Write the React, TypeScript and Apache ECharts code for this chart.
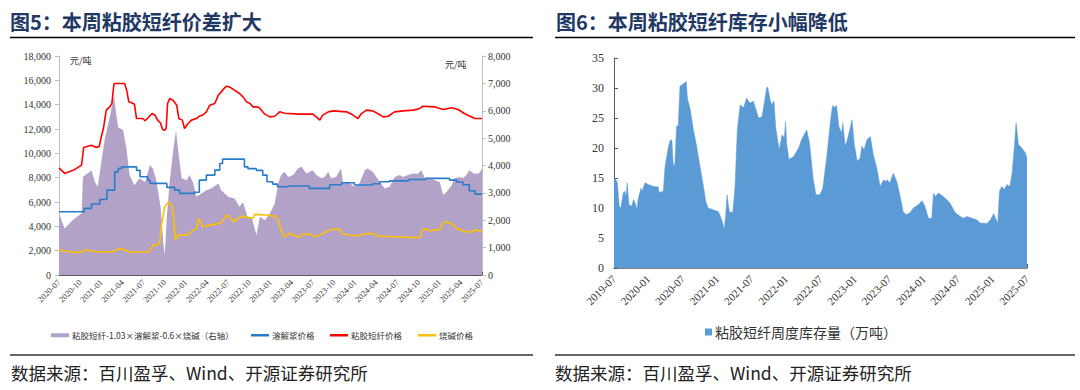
import React, { useEffect, useRef } from "react";
import * as echarts from "echarts";

const leftTitle = "图5：本周粘胶短纤价差扩大";
const rightTitle = "图6：本周粘胶短纤库存小幅降低";
const sourceText = "数据来源：百川盈孚、Wind、开源证券研究所";
const unitLabel = "元/吨";
const spreadName = "粘胶短纤-1.03×溶解浆-0.6×烧碱（右轴）";
const pulpName = "溶解浆价格";
const viscoseName = "粘胶短纤价格";
const causticName = "烧碱价格";
const inventoryName = "粘胶短纤周度库存量（万吨）";

// x = months since 2020-07
const spreadData: [number, number][] = [
  [0, 2250], [0.8, 1700], [2.0, 2020], [2.9, 2190], [3.2, 2250], [3.4, 3580], [4.1, 3720], [4.6, 3830],
  [5.1, 3400], [5.5, 3220], [6.0, 4130], [6.5, 4980], [7.0, 5530], [7.4, 6020], [7.8, 6560], [8.1, 5900],
  [8.4, 5400], [9.1, 5290], [9.6, 4560], [10.0, 3650], [10.7, 3280], [11.4, 3530], [12.2, 3400], [12.9, 4010],
  [13.3, 3890], [13.8, 3470], [14.4, 2490], [14.8, 1150], [15.0, 730], [15.3, 2130], [15.7, 3400], [16.2, 4560],
  [16.6, 5290], [16.9, 4560], [17.4, 3530], [18.1, 3460], [18.5, 3650], [19.0, 3400], [19.5, 2860], [20.2, 2980],
  [20.9, 3100], [21.6, 3160], [22.6, 3340], [23.0, 3100], [24.0, 2860], [24.9, 2790], [25.6, 2490], [26.1, 2670],
  [26.8, 2070], [27.3, 2130], [28.0, 1460], [28.5, 2130], [29.2, 2000], [29.9, 2250], [30.6, 2610], [31.1, 3340],
  [31.5, 3650], [32.0, 3770], [32.5, 3580], [33.2, 3650], [33.9, 3890], [34.4, 3950], [35.1, 3710], [36.0, 3830],
  [36.5, 3650], [37.2, 3530], [37.7, 3580], [38.2, 3770], [38.6, 3530], [39.3, 3580], [40.0, 3890], [40.3, 3340],
  [41.0, 3400], [41.9, 3220], [42.6, 3340], [43.4, 3830], [43.8, 3890], [44.5, 3770], [45.0, 3580], [45.7, 3340],
  [46.2, 3160], [46.9, 3220], [47.6, 3580], [48.3, 3650], [48.8, 3580], [49.5, 3650], [50.2, 3710], [50.9, 3700],
  [51.4, 3830], [51.9, 3530], [52.6, 3530], [53.3, 3460], [54.0, 3400], [54.5, 2920], [55.0, 3040], [55.7, 3280],
  [56.1, 3530], [56.8, 3580], [57.3, 3530], [57.8, 3650], [58.2, 3830], [58.9, 3700], [59.6, 3720], [60.0, 3890],
];

const pulpData: [number, number][] = [
  [0, 5200], [3.6, 5480], [4.6, 5830], [5.8, 6210], [6.8, 6980], [7.9, 8480], [8.4, 8760], [8.9, 8890],
  [11.0, 8600], [11.5, 8070], [12.6, 7800], [12.9, 7530], [15.3, 7200], [16.4, 6980], [17.1, 6710], [19.2, 6800],
  [19.9, 7800], [20.9, 8210], [22.1, 8620], [22.8, 9170], [23.2, 9520], [26.3, 8890], [26.8, 8740], [28.0, 8600],
  [28.9, 8210], [29.5, 7660], [30.3, 7470], [31.0, 7250], [32.5, 7310], [35.5, 7120], [38.4, 7420], [40.1, 7580],
  [41.9, 7400], [44.5, 7500], [45.5, 7660], [46.9, 7740], [49.6, 7850], [52.0, 7940], [55.4, 7800], [56.4, 7650],
  [57.3, 7420], [58.2, 6920], [59.0, 6650], [60.0, 6650],
];

const viscoseData: [number, number][] = [
  [0, 8800], [0.8, 8350], [2.0, 8600], [3.2, 9030], [3.5, 10480], [4.1, 10590], [4.6, 10670], [5.3, 10480],
  [5.7, 10560], [6.0, 11360], [6.3, 12040], [6.7, 13550], [7.2, 13820], [7.5, 14090], [7.8, 15740], [9.3, 15740],
  [9.6, 15190], [9.9, 14230], [10.3, 14150], [10.7, 14040], [11.0, 12860], [11.9, 12860], [12.2, 12680], [12.6, 12900],
  [13.2, 13270], [13.6, 13150], [14.0, 12730], [14.4, 12490], [14.7, 11960], [15.0, 11900], [15.2, 12040], [15.4, 14100],
  [15.7, 14500], [16.2, 14350], [16.7, 13960], [17.0, 12860], [17.5, 12730], [17.8, 12040], [18.3, 12450], [18.8, 12730],
  [19.5, 12860], [19.9, 13050], [20.4, 13150], [20.9, 13410], [21.4, 13960], [22.1, 14100], [22.6, 14780], [23.0, 15050],
  [23.7, 15520], [24.2, 15450], [24.9, 15190], [25.6, 14920], [26.1, 14640], [26.6, 14230], [27.1, 14100], [27.5, 13820],
  [28.2, 13820], [28.5, 13690], [29.2, 13220], [29.9, 13000], [30.6, 13050], [31.3, 13410], [32.0, 13300], [34.0, 13220],
  [36.0, 13220], [36.5, 13000], [37.0, 12730], [37.4, 13140], [38.2, 13410], [38.9, 13490], [40.8, 13410], [41.5, 13220],
  [42.4, 12860], [42.9, 13270], [43.6, 13550], [44.5, 13490], [45.2, 13270], [46.0, 13000], [46.7, 13050], [47.6, 13410],
  [48.8, 13490], [50.2, 13550], [51.2, 13690], [51.6, 13870], [53.3, 13820], [54.0, 13690], [54.5, 13600], [55.7, 13740],
  [56.6, 13600], [57.5, 13270], [58.3, 13050], [59.0, 12860], [60.0, 12860],
];

const causticData: [number, number][] = [
  [0, 2050], [1.1, 1950], [2.0, 1860], [3.0, 1860], [3.9, 2050], [5.3, 1910], [7.6, 1910], [8.4, 2130],
  [9.0, 2130], [10.0, 1890], [12.4, 1890], [12.9, 1950], [13.3, 2460], [14.0, 2460], [14.3, 2700], [14.5, 3970],
  [15.0, 5600], [15.5, 5970], [16.0, 5740], [16.3, 4530], [16.5, 2870], [16.9, 3280], [18.1, 3280], [18.8, 3560],
  [19.5, 3830], [19.8, 4650], [20.4, 3970], [21.3, 4100], [22.8, 4240], [23.3, 4500], [23.7, 4930], [24.2, 4800],
  [24.7, 4380], [25.4, 4650], [26.1, 4840], [27.5, 4650], [27.8, 4980], [29.4, 4930], [30.3, 4840], [30.7, 4870],
  [31.1, 4430], [31.6, 3560], [32.0, 3150], [32.7, 3420], [34.1, 3100], [34.5, 3370], [35.5, 3370], [36.3, 3150],
  [37.0, 3300], [37.9, 3560], [38.6, 3750], [39.8, 3750], [40.1, 3370], [42.2, 3200], [43.3, 3370], [44.5, 3420],
  [45.2, 3200], [47.4, 3150], [50.7, 3070], [51.2, 3100], [51.6, 3830], [52.6, 3640], [54.0, 3750], [54.5, 4300],
  [55.0, 4380], [55.7, 4200], [56.4, 3830], [57.3, 3640], [58.3, 3500], [58.9, 3690], [59.5, 3650], [60.0, 3530],
];

// x = months since 2019-07
const inventoryData: [number, number][] = [
  [0, 15.0], [0.3, 14.8], [0.6, 14.2], [0.9, 10.3], [1.2, 10.0], [1.6, 12.5], [1.9, 12.8], [2.1, 11.9],
  [2.3, 14.2], [2.6, 10.6], [3.1, 10.3], [3.4, 11.4], [3.7, 10.8], [4.0, 9.8], [4.2, 11.4], [4.7, 13.3],
  [4.9, 12.8], [5.4, 14.2], [6.0, 13.9], [6.9, 13.6], [7.7, 13.5], [7.9, 12.6], [8.6, 12.8], [8.9, 16.9],
  [9.5, 20.3], [9.8, 21.3], [10.1, 21.3], [10.3, 17.5], [10.6, 16.9], [10.9, 23.6], [11.2, 23.8], [11.5, 30.3],
  [12.1, 30.7], [12.6, 31.1], [12.8, 28.3], [13.3, 26.4], [13.8, 23.3], [14.4, 20.3], [15.0, 16.9], [15.6, 13.6],
  [16.0, 11.1], [16.4, 10.0], [17.3, 9.7], [18.2, 9.4], [18.8, 8.0], [19.2, 6.4], [19.5, 9.1], [19.7, 12.2],
  [20.1, 9.4], [20.7, 9.2], [21.1, 13.6], [21.5, 23.1], [22.0, 27.2], [22.6, 26.7], [23.1, 28.3], [23.7, 27.5],
  [24.3, 27.8], [25.2, 25.0], [25.8, 25.2], [26.2, 27.5], [26.6, 30.0], [26.8, 30.2], [27.2, 28.1], [27.5, 27.2],
  [27.9, 27.8], [28.2, 23.3], [28.8, 19.7], [29.3, 22.2], [29.7, 21.7], [29.9, 24.4], [30.1, 20.8], [30.5, 18.1],
  [31.3, 18.6], [32.2, 20.0], [32.7, 21.4], [33.6, 23.0], [34.1, 20.8], [34.7, 15.0], [35.2, 12.2], [35.9, 12.2],
  [36.4, 13.3], [37.1, 18.6], [37.7, 24.2], [38.1, 27.1], [38.4, 26.8], [38.8, 27.1], [39.2, 23.6], [39.7, 22.5],
  [39.9, 24.2], [40.3, 20.3], [40.7, 21.4], [41.5, 24.7], [41.9, 20.6], [42.4, 17.8], [42.9, 18.3], [43.2, 20.3],
  [43.6, 19.7], [44.1, 21.4], [44.7, 21.9], [45.2, 18.9], [45.8, 16.7], [46.4, 13.6], [47.0, 14.7], [47.3, 14.4],
  [47.6, 14.7], [48.1, 14.2], [48.7, 15.8], [49.3, 14.4], [49.9, 11.9], [50.4, 9.4], [50.9, 8.9], [51.6, 9.2],
  [52.2, 10.0], [53.1, 10.6], [53.7, 11.2], [54.2, 10.3], [54.8, 8.3], [55.4, 8.3], [55.7, 12.5], [56.0, 11.9],
  [56.6, 12.5], [57.4, 11.9], [58.0, 11.4], [58.6, 10.8], [59.5, 9.2], [60.4, 8.6], [60.9, 8.3], [61.5, 8.6],
  [62.4, 8.3], [63.3, 8.0], [63.8, 7.5], [65.0, 7.4], [65.6, 8.0], [66.2, 9.05], [66.9, 7.4], [67.2, 12.8],
  [67.6, 13.6], [68.0, 13.1], [68.5, 13.9], [69.0, 13.6], [69.4, 15.8], [69.8, 20.3], [70.1, 24.2], [70.5, 20.6],
  [71.1, 20.0], [71.7, 19.2], [72.0, 18.3],
];

const monthLabel = (baseYear: number, baseMonth: number) => (v: number) => {
  const total = baseMonth - 1 + Math.round(v);
  const y = baseYear + Math.floor(total / 12);
  const m = (total % 12) + 1;
  return `${y}-${String(m).padStart(2, "0")}`;
};
const commas = (v: number) => String(v).replace(/\B(?=(\d{3})+(?!\d))/g, ",");

const serif = "'Liberation Serif','Noto Sans CJK SC',serif";
const cjk = "'Noto Sans CJK SC','Liberation Serif',sans-serif";
const PURPLE = "#b3a2c7";
const BLUE = "#2a7ccb";
const RED = "#ff0000";
const YELLOW = "#ffc000";
const AREA_BLUE = "#5b9bd5";
const TITLE = "#1f3864";

const smallLegend = (name: string, left: number, itemHeight: number) => ({
  left, top: 331, padding: 0, itemWidth: 18, itemHeight, icon: "rect",
  textStyle: { fontSize: 8.5, color: "#333", fontFamily: cjk, padding: [0, 0, 0, -2] },
  data: [name],
});

export default function App() {
  const ref = useRef<HTMLDivElement>(null);
  useEffect(() => {
    if (!ref.current) return;
    const chart = echarts.init(ref.current, null, { renderer: "svg" });
    const option: any = {
      animation: false,
      backgroundColor: "#fff",
      textStyle: { fontFamily: serif },
      grid: [
        { left: 59, top: 56, width: 423, height: 219 },
        { left: 614, top: 58, width: 413, height: 210 },
      ],
      xAxis: [
        {
          type: "value", gridIndex: 0, min: 0, max: 60, interval: 3,
          axisLine: { lineStyle: { color: "#595959", width: 1.2 } },
          axisTick: { inside: true, length: 3, lineStyle: { color: "#595959" } },
          axisLabel: { rotate: 45, fontSize: 8.5, color: "#333", margin: 6, formatter: monthLabel(2020, 7), fontFamily: serif },
          splitLine: { show: false },
        },
        {
          type: "value", gridIndex: 1, min: 0, max: 72, interval: 6,
          axisLine: { lineStyle: { color: "#595959", width: 1.5 } },
          axisTick: { inside: true, length: 4, lineStyle: { color: "#595959" } },
          axisLabel: { rotate: 45, fontSize: 11, color: "#333", margin: 9, formatter: monthLabel(2019, 7), fontFamily: serif },
          splitLine: { show: false },
        },
      ],
      yAxis: [
        {
          type: "value", gridIndex: 0, min: 0, max: 18000, interval: 2000,
          axisLine: { show: true, lineStyle: { color: "#bfbfbf" } },
          axisTick: { show: true, length: 4, lineStyle: { color: "#bfbfbf" } },
          axisLabel: { fontSize: 10, color: "#333", margin: 8, formatter: commas, fontFamily: serif },
          splitLine: { show: false },
        },
        {
          type: "value", gridIndex: 0, position: "right", min: 0, max: 8000, interval: 1000,
          axisLine: { show: true, lineStyle: { color: "#bfbfbf" } },
          axisTick: { show: true, length: 4, lineStyle: { color: "#bfbfbf" } },
          axisLabel: { fontSize: 10, color: "#333", margin: 6, formatter: commas, fontFamily: serif },
          splitLine: { show: false },
        },
        {
          type: "value", gridIndex: 1, min: 0, max: 35, interval: 5,
          axisLine: { show: true, lineStyle: { color: "#595959" } },
          axisTick: { show: true, inside: true, length: 4, lineStyle: { color: "#595959" } },
          axisLabel: { fontSize: 12, color: "#333", margin: 10, fontFamily: serif },
          splitLine: { show: false },
        },
      ],
      legend: [
        smallLegend(spreadName, 51, 4),
        smallLegend(pulpName, 251, 2.5),
        smallLegend(viscoseName, 330, 2.5),
        smallLegend(causticName, 418, 2.5),
        {
          left: 705, top: 325, padding: 0, itemWidth: 7, itemHeight: 7, icon: "rect",
          textStyle: { fontSize: 14, color: "#333", fontFamily: cjk, padding: [0, 0, 0, -2] },
          data: [inventoryName],
        },
      ],
      series: [
        {
          name: spreadName, type: "line", xAxisIndex: 0, yAxisIndex: 1, data: spreadData,
          symbol: "none", lineStyle: { width: 0 }, itemStyle: { color: PURPLE },
          areaStyle: { color: PURPLE, opacity: 1 },
        },
        {
          name: pulpName, type: "line", xAxisIndex: 0, yAxisIndex: 0, data: pulpData, step: "end",
          symbol: "none", lineStyle: { width: 1.6, color: BLUE }, itemStyle: { color: BLUE },
        },
        {
          name: viscoseName, type: "line", xAxisIndex: 0, yAxisIndex: 0, data: viscoseData,
          symbol: "none", lineStyle: { width: 1.6, color: RED }, itemStyle: { color: RED },
        },
        {
          name: causticName, type: "line", xAxisIndex: 0, yAxisIndex: 0, data: causticData,
          symbol: "none", lineStyle: { width: 1.6, color: YELLOW }, itemStyle: { color: YELLOW },
        },
        {
          name: inventoryName, type: "line", xAxisIndex: 1, yAxisIndex: 2, data: inventoryData,
          symbol: "none", lineStyle: { width: 0.5, color: AREA_BLUE }, itemStyle: { color: AREA_BLUE },
          areaStyle: { color: AREA_BLUE, opacity: 1 },
        },
      ],
      graphic: [
        { type: "text", x: 10, y: 21, style: { text: leftTitle, fontSize: 20, fontWeight: "bold", fill: TITLE, fontFamily: cjk, verticalAlign: "middle" } },
        { type: "text", x: 556, y: 21, style: { text: rightTitle, fontSize: 20, fontWeight: "bold", fill: TITLE, fontFamily: cjk, verticalAlign: "middle" } },
        { type: "line", shape: { x1: 10, y1: 37.5, x2: 533, y2: 37.5 }, style: { stroke: "#000", lineWidth: 1.5 } },
        { type: "line", shape: { x1: 555, y1: 37.5, x2: 1075, y2: 37.5 }, style: { stroke: "#000", lineWidth: 1.5 } },
        { type: "line", shape: { x1: 10, y1: 355, x2: 533, y2: 355 }, style: { stroke: "#333", lineWidth: 1.5 } },
        { type: "line", shape: { x1: 555, y1: 355, x2: 1075, y2: 355 }, style: { stroke: "#333", lineWidth: 1.5 } },
        { type: "text", x: 11, y: 372, style: { text: sourceText, fontSize: 17.5, fill: "#222", fontFamily: cjk, verticalAlign: "middle" } },
        { type: "text", x: 555, y: 372, style: { text: sourceText, fontSize: 17.5, fill: "#222", fontFamily: cjk, verticalAlign: "middle" } },
        { type: "text", x: 70, y: 60, style: { text: unitLabel, fontSize: 9, fill: "#333", fontFamily: cjk, verticalAlign: "middle" } },
        { type: "text", x: 445, y: 64, style: { text: unitLabel, fontSize: 9, fill: "#333", fontFamily: cjk, verticalAlign: "middle" } },
      ],
    };
    chart.setOption(option);
    return () => chart.dispose();
  }, []);
  return (
    <div
      ref={ref}
      style={{ position: "absolute", left: 0, top: 0, width: 1080, height: 390, background: "#fff" }}
    />
  );
}
